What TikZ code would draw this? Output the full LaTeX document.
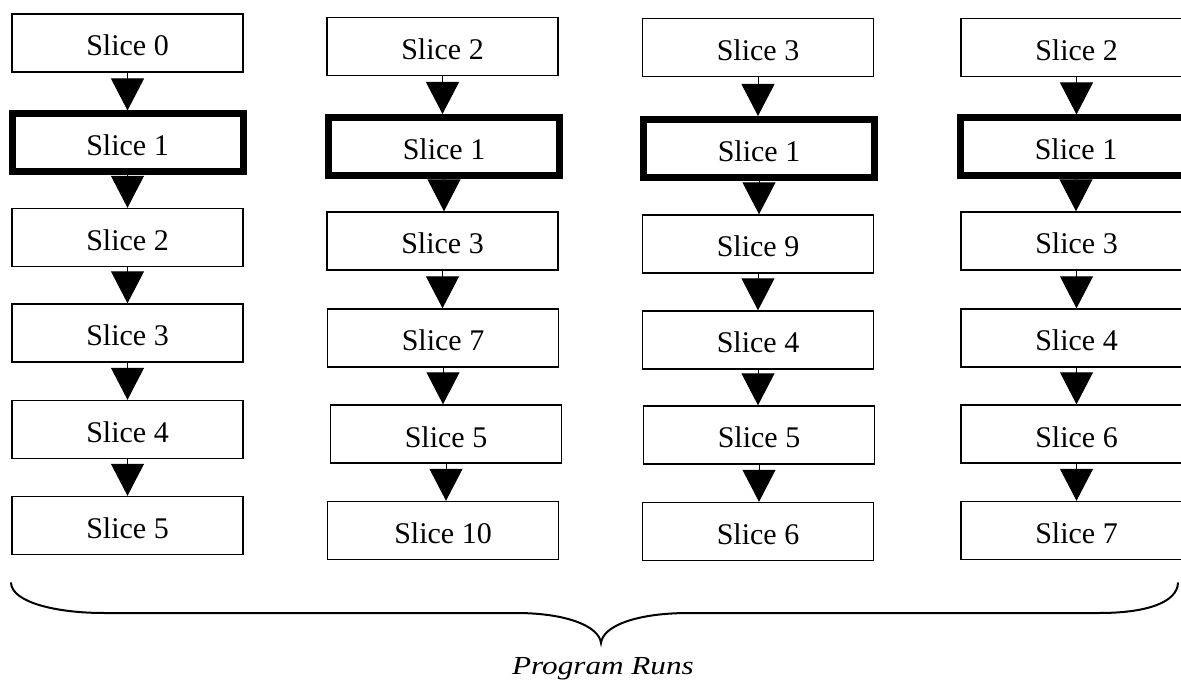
\documentclass[tikz,border=0pt]{standalone}
\usepackage{fontspec}
\setmainfont{Liberation Serif}
\usetikzlibrary{arrows.meta}
\tikzset{
  slicebox/.style={draw=black, line width=1.4pt, fill=white, minimum width=231pt, minimum height=58pt,
    inner sep=0pt, text height=26pt, text depth=0pt, font=\fontsize{30}{34}\selectfont},
  thickbox/.style={slicebox, line width=7pt},
  flow/.style={line width=1pt, -{Triangle[width=33pt,length=32pt]}},
  bracestyle/.style={line width=2pt, line cap=round},
}
\begin{document}
\begin{tikzpicture}[x=1pt,y=-1pt]
\useasboundingbox (0,0) rectangle (1181,684);
% column 1
\node[slicebox] (a0) at (127.5,43) {Slice 0};
\node[thickbox] (a1) at (127.5,143) {Slice 1};
\node[slicebox] (a2) at (127.5,237.5) {Slice 2};
\node[slicebox] (a3) at (127.5,333) {Slice 3};
\node[slicebox] (a4) at (127.5,429.5) {Slice 4};
\node[slicebox] (a5) at (127.5,525.5) {Slice 5};
% column 2
\node[slicebox] (b0) at (442.5,46.5) {Slice 2};
\node[thickbox] (b1) at (444,146.5) {Slice 1};
\node[slicebox] (b2) at (442.5,241) {Slice 3};
\node[slicebox] (b3) at (443,338) {Slice 7};
\node[slicebox] (b4) at (446,434) {Slice 5};
\node[slicebox] (b5) at (443,530.5) {Slice 10};
% column 3
\node[slicebox] (c0) at (758,47.5) {Slice 3};
\node[thickbox] (c1) at (759,148.5) {Slice 1};
\node[slicebox] (c2) at (758,244) {Slice 9};
\node[slicebox] (c3) at (758,340) {Slice 4};
\node[slicebox] (c4) at (759,435) {Slice 5};
\node[slicebox] (c5) at (758,531.5) {Slice 6};
% column 4
\node[slicebox] (d0) at (1076.5,47.5) {Slice 2};
\node[thickbox] (d1) at (1076,147) {Slice 1};
\node[slicebox] (d2) at (1076.5,241) {Slice 3};
\node[slicebox] (d3) at (1076.5,338) {Slice 4};
\node[slicebox] (d4) at (1076.5,434) {Slice 6};
\node[slicebox] (d5) at (1076.5,530.5) {Slice 7};
% arrows
\foreach \c in {a,b,c,d}{
  \foreach \i [evaluate=\i as \j using int(\i+1)] in {0,...,4}{
    \draw[flow] (\c\i.south) -- (\c\i.south |- \c\j.north);
  }
}
% brace
\coordinate (bl) at (11,583);
\coordinate (bm) at (601,643);
\coordinate (br) at (1178,583);
\draw[bracestyle] (bl) .. controls (12,602) and (55,613) .. (104,613) -- (516,613)
  .. controls (566,613) and (599,626) .. (bm)
  .. controls (603,626) and (636,613) .. (689,613) -- (1099,613)
  .. controls (1148,613) and (1177,602) .. (br);
\node[font=\itshape\fontsize{26}{30}\selectfont, xscale=1.2, inner sep=0pt, text height=18pt, text depth=6pt] (lbl) at (603,668) {Program Runs};
\end{tikzpicture}
\end{document}
